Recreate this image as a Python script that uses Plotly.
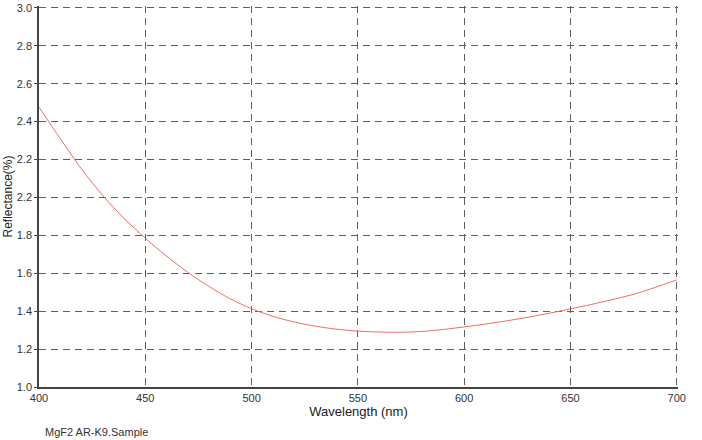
import plotly.graph_objects as go

wavelength = [400, 410, 420, 430, 440, 450, 460, 470, 480, 490, 500,
              510, 520, 530, 540, 550, 560, 570, 580, 590, 600,
              610, 620, 630, 640, 650, 660, 670, 680, 690, 700]
reflectance = [2.476, 2.31, 2.15, 2.01, 1.89, 1.785, 1.69, 1.605, 1.53, 1.465, 1.413,
               1.373, 1.343, 1.321, 1.305, 1.295, 1.290, 1.289, 1.293, 1.303, 1.317,
               1.332, 1.349, 1.368, 1.389, 1.412, 1.436, 1.462, 1.49, 1.526, 1.565]

y_tickvals = [1.0, 1.2, 1.4, 1.6, 1.8, 2.0, 2.2, 2.4, 2.6, 2.8, 3.0]
y_ticktext = ["1.0", "1.2", "1.4", "1.6", "1.8", "2.2", "2.2", "2.4", "2.6", "2.8", "3.0"]
x_tickvals = [400, 450, 500, 550, 600, 650, 700]

fig = go.Figure()
fig.add_trace(go.Scatter(
    x=wavelength, y=reflectance, mode="lines",
    line=dict(color="#f26b63", width=1, shape="spline", smoothing=0.8),
    showlegend=False,
))

grid = dict(showgrid=True, gridcolor="#5e5e5e", gridwidth=1, griddash="7px,5px")
# ranges run a hair past 700 / 3.0 so the edge grid lines are kept
fig.update_xaxes(
    range=[400, 700.6], tickvals=x_tickvals, showline=True, linecolor="#444444",
    linewidth=1.5, ticks="", zeroline=False, automargin=False,
    title=dict(text="Wavelength (nm)", font=dict(size=13, color="#222222"), standoff=0),
    tickfont=dict(size=11, color="#333333"), **grid,
)
fig.update_yaxes(
    range=[1.0, 3.01], tickvals=y_tickvals, ticktext=y_ticktext, showline=True,
    linecolor="#444444", linewidth=1.5, ticks="outside", ticklen=3, tickcolor="#444444",
    zeroline=False, automargin=False, ticklabeloverflow="allow",
    title=dict(text="Reflectance(%)", font=dict(size=12, color="#222222"), standoff=2),
    tickfont=dict(size=11, color="#333333"), **grid,
)
fig.add_annotation(
    text="MgF2 AR-K9.Sample", xref="paper", yref="paper", x=0.006, y=-0.119,
    xanchor="left", yanchor="middle", showarrow=False,
    font=dict(size=11, color="#333333"),
)
fig.update_layout(
    width=702, height=440,
    margin=dict(l=39, r=24, t=6, b=53),
    paper_bgcolor="white", plot_bgcolor="white",
    font=dict(family="Liberation Sans, Arial, sans-serif"),
)
# drop the default 8px page margin so the figure fills the window exactly
fig.write_html("out.html", config={"displayModeBar": False},
               post_script="document.body.style.margin = '0';")
